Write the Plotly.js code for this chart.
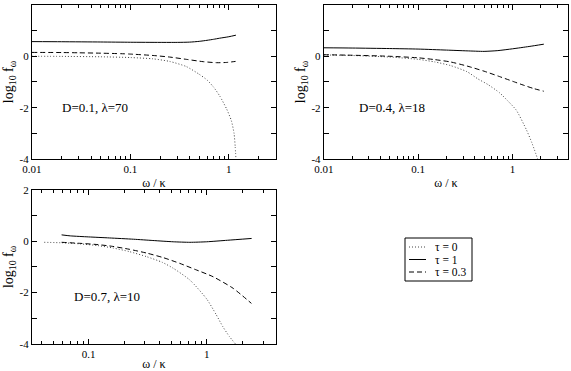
<!DOCTYPE html>
<html>
<head>
<meta charset="utf-8">
<script src="https://cdn.plot.ly/plotly-3.0.1.min.js"></script>
<style>
  html, body { margin: 0; padding: 0; background: #fff; }
  #chart { width: 571px; height: 371px; }
</style>
</head>
<body>
<div id="chart"></div>
<script>
// ---- data (log10 f_omega vs omega/kappa) ----
// panel a: D=0.1, lambda=70
const aTau0X = [0.01, 0.02, 0.05, 0.1, 0.17, 0.25, 0.37, 0.5, 0.6, 0.7, 0.81, 0.95, 1.06, 1.13, 1.16, 1.18];
const aTau0Y = [0.0, -0.005, -0.02, -0.05, -0.10, -0.20, -0.40, -0.70, -0.92, -1.2, -1.55, -2.05, -2.5, -3.0, -3.5, -4.0];
const aTau1X = [0.01, 0.02, 0.05, 0.1, 0.2, 0.3, 0.4, 0.5, 0.6, 0.7, 0.8, 1.0, 1.18];
const aTau1Y = [0.57, 0.565, 0.555, 0.545, 0.54, 0.54, 0.55, 0.58, 0.62, 0.66, 0.70, 0.76, 0.82];
const aTau03X = [0.01, 0.02, 0.03, 0.05, 0.08, 0.1, 0.17, 0.25, 0.37, 0.55, 0.75, 0.95, 1.17];
const aTau03Y = [0.15, 0.145, 0.135, 0.12, 0.10, 0.085, 0.03, -0.03, -0.12, -0.21, -0.25, -0.24, -0.20];

// panel b: D=0.4, lambda=18
const bTau0X = [0.01, 0.02, 0.05, 0.1, 0.15, 0.22, 0.33, 0.43, 0.55, 0.73, 0.9, 1.1, 1.41, 1.6, 1.85];
const bTau0Y = [0.05, 0.03, -0.03, -0.12, -0.22, -0.36, -0.60, -0.88, -1.1, -1.42, -1.75, -2.1, -2.87, -3.35, -4.0];
const bTau1X = [0.01, 0.02, 0.05, 0.1, 0.2, 0.33, 0.5, 0.7, 1.0, 1.5, 2.15];
const bTau1Y = [0.33, 0.32, 0.30, 0.28, 0.24, 0.21, 0.19, 0.22, 0.29, 0.38, 0.47];
const bTau03X = [0.01, 0.02, 0.05, 0.1, 0.15, 0.22, 0.33, 0.5, 0.73, 1.0, 1.3, 1.66, 2.15];
const bTau03Y = [0.06, 0.04, 0.0, -0.06, -0.13, -0.22, -0.38, -0.58, -0.79, -0.97, -1.12, -1.25, -1.36];

// panel c: D=0.7, lambda=10
const cTau0X = [0.042, 0.06, 0.084, 0.12, 0.16, 0.22, 0.31, 0.42, 0.52, 0.72, 1.0, 1.2, 1.37, 1.55, 1.75];
const cTau0Y = [-0.04, -0.06, -0.1, -0.17, -0.26, -0.4, -0.6, -0.82, -1.05, -1.51, -2.25, -2.85, -3.33, -3.7, -4.0];
const cTau1X = [0.059, 0.07, 0.1, 0.15, 0.24, 0.35, 0.52, 0.72, 1.0, 1.5, 2.4];
const cTau1Y = [0.25, 0.21, 0.17, 0.13, 0.08, 0.03, -0.02, -0.04, -0.02, 0.04, 0.11];
const cTau03X = [0.059, 0.084, 0.12, 0.16, 0.22, 0.31, 0.43, 0.59, 0.8, 1.13, 1.67, 2.39];
const cTau03Y = [-0.04, -0.08, -0.13, -0.2, -0.31, -0.46, -0.64, -0.86, -1.1, -1.38, -1.83, -2.42];

const tauNames = ["τ = 0", "τ = 1", "τ = 0.3"];
const panelLabels = ["D=0.1, λ=70", "D=0.4, λ=18", "D=0.7, λ=10"];

const xMajor = [0.01, 0.1, 1];
const xMajorText = ["0.01", "0.1", "1"];
const xMinor = [0.02, 0.03, 0.04, 0.05, 0.06, 0.07, 0.08, 0.09,
                0.2, 0.3, 0.4, 0.5, 0.6, 0.7, 0.8, 0.9, 2, 3];
const yMajor = [-4, -2, 0, 2];
const yMajorText = ["-4", "-2", "0", "2"];
const yMinor = [-3, -1, 1];

// ---- styling ----
const SERIF = "'Liberation Serif', 'Times New Roman', Times, serif";
const tauStyles = [
  { color: "#444", width: 1, dash: "1px,2px" },
  { color: "#000", width: 1, dash: "solid" },
  { color: "#000", width: 1, dash: "5px,3px" },
];

function mkTraces(xs, ys, axis) {
  return xs.map((x, i) => ({
    x, y: ys[i], type: "scatter", mode: "lines",
    line: { ...tauStyles[i], shape: "spline", smoothing: 0.6 },
    name: tauNames[i], showlegend: false,
    xaxis: "x" + axis, yaxis: "y" + axis,
  }));
}

const traces = [
  ...mkTraces([aTau0X, aTau1X, aTau03X], [aTau0Y, aTau1Y, aTau03Y], ""),
  ...mkTraces([bTau0X, bTau1X, bTau03X], [bTau0Y, bTau1Y, bTau03Y], "2"),
  ...mkTraces([cTau0X, cTau1X, cTau03X], [cTau0Y, cTau1Y, cTau03Y], "3"),
];

function xAxis(domain, range, anchor) {
  return {
    type: "log", domain, range, anchor,
    showline: true, linecolor: "#000", linewidth: 1, mirror: "ticks",
    showgrid: false, zeroline: false,
    tickmode: "array", tickvals: xMajor, ticktext: xMajorText,
    ticks: "inside", ticklen: 5, tickcolor: "#000",
    minor: { tickmode: "array", tickvals: xMinor, ticks: "inside", ticklen: 3, tickcolor: "#000", showgrid: false },
    tickfont: { family: SERIF, size: 11, color: "#000" },
    title: { text: "ω / κ", font: { family: SERIF, size: 12, color: "#000" }, standoff: 4 },
  };
}
function yAxis(domain, anchor) {
  return {
    domain, range: [-4, 2], anchor,
    showline: true, linecolor: "#000", linewidth: 1, mirror: "ticks",
    showgrid: false, zeroline: false,
    tickmode: "array", tickvals: yMajor, ticktext: yMajorText,
    ticks: "inside", ticklen: 5, tickcolor: "#000",
    minor: { tickmode: "array", tickvals: yMinor, ticks: "inside", ticklen: 5, tickcolor: "#000", showgrid: false },
    tickfont: { family: SERIF, size: 11, color: "#000" },
    title: { text: "log<sub>10</sub> f<sub>ω</sub>", font: { family: SERIF, size: 14, color: "#000" }, standoff: 2 },
  };
}

// legend drawn as a small framed key in the empty lower-right cell
const keyLeft = 405, keyTop = 238, keyRight = 472, keyBottom = 281, rowGap = 12.5;
const px = (v) => v / 571, py = (v) => 1 - v / 371;
const keyShapes = [
  { type: "rect", xref: "paper", yref: "paper", x0: px(keyLeft), x1: px(keyRight), y0: py(keyBottom), y1: py(keyTop),
    line: { color: "#000", width: 1 }, fillcolor: "#fff" },
  ...tauStyles.map((s, i) => ({
    type: "line", xref: "paper", yref: "paper",
    x0: px(keyLeft + 4), x1: px(keyLeft + 21),
    y0: py(keyTop + 9 + i * rowGap), y1: py(keyTop + 9 + i * rowGap),
    line: { color: s.color, width: 1, dash: s.dash },
  })),
];
const keyLabels = tauNames.map((t, i) => ({
  xref: "paper", yref: "paper", x: px(keyLeft + 29), y: py(keyTop + 9 + i * rowGap),
  xanchor: "left", yanchor: "middle", text: t, showarrow: false,
  font: { family: SERIF, size: 11.5, color: "#000" },
  borderpad: 0,
}));

const annFont = { family: SERIF, size: 13, color: "#000" };
const layout = {
  width: 571, height: 371,
  margin: { t: 0, l: 0, r: 0, b: 0 },
  paper_bgcolor: "#fff", plot_bgcolor: "#fff",
  font: { family: SERIF, color: "#000" },
  showlegend: false,
  xaxis: xAxis([0.056, 0.483], [-2, 0.477], "y"),
  yaxis: yAxis([0.571, 0.987], "x"),
  xaxis2: xAxis([0.567, 0.995], [-2, 0.59], "y2"),
  yaxis2: yAxis([0.571, 0.987], "x2"),
  xaxis3: xAxis([0.056, 0.483], [-1.48, 0.585], "y3"),
  yaxis3: yAxis([0.073, 0.488], "x3"),
  shapes: keyShapes,
  annotations: [
    { xref: "x", yref: "y", x: Math.log10(0.044), y: -2.0, text: panelLabels[0], showarrow: false, font: annFont },
    { xref: "x2", yref: "y2", x: Math.log10(0.053), y: -2.0, text: panelLabels[1], showarrow: false, font: annFont },
    { xref: "x3", yref: "y3", x: Math.log10(0.142), y: -2.17, text: panelLabels[2], showarrow: false, font: annFont },
    ...keyLabels,
  ],
};

Plotly.newPlot("chart", traces, layout, { displayModeBar: false, staticPlot: true });
</script>
</body>
</html>
